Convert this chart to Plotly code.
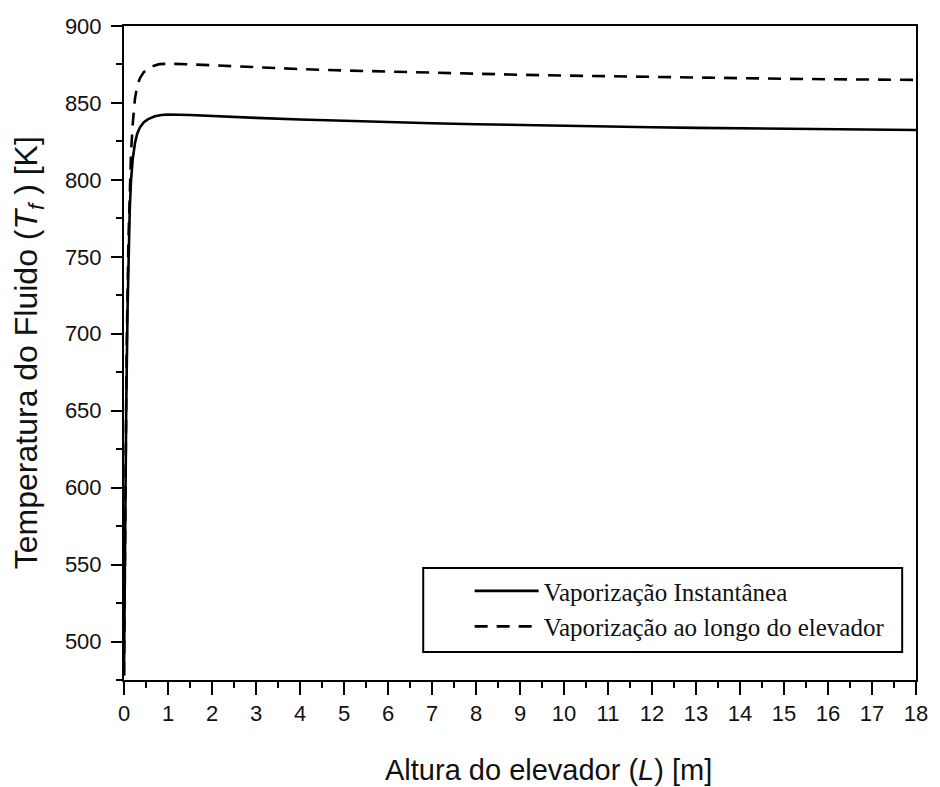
import plotly.graph_objects as go

# Data
L_inst = [0.0, 0.02, 0.05, 0.08, 0.1, 0.13, 0.16, 0.2, 0.25, 0.3, 0.36, 0.45, 0.55, 0.7, 0.85, 1.0,
          1.5, 2, 3, 4, 5, 6, 7, 8, 9, 10, 11, 12, 13, 14, 15, 16, 17, 18]
T_inst = [478, 560, 650, 715, 750, 780, 800, 814, 824, 830, 834, 837.5, 839.5, 841.3, 842.2, 842.5,
          842.2, 841.5, 840.3, 839.2, 838.3, 837.5, 836.8, 836.2, 835.6, 835.0, 834.6, 834.2, 833.8,
          833.5, 833.2, 832.9, 832.6, 832.4]

L_vap = [0.0, 0.03, 0.06, 0.1, 0.13, 0.16, 0.2, 0.25, 0.3, 0.36, 0.45, 0.6, 0.8, 1.0,
         1.5, 2, 3, 4, 5, 6, 7, 8, 9, 10, 11, 12, 13, 14, 15, 16, 17, 18]
T_vap = [478, 600, 690, 760, 795, 818, 837, 853, 861, 866, 870, 873.5, 875.2, 875.5,
         875.1, 874.4, 873.2, 872.0, 871.1, 870.3, 869.6, 868.9, 868.3, 867.8, 867.3, 866.8,
         866.4, 866.0, 865.7, 865.4, 865.2, 865.0]

name_inst = "Vaporização Instantânea"
name_vap = "Vaporização ao longo do elevador"

x_ticks = list(range(0, 19))
y_ticks = [500, 550, 600, 650, 700, 750, 800, 850, 900]

fig = go.Figure()
fig.add_trace(go.Scatter(x=L_inst, y=T_inst, mode="lines", name=name_inst,
                         line=dict(color="black", width=2.6)))
fig.add_trace(go.Scatter(x=L_vap, y=T_vap, mode="lines", name=name_vap,
                         line=dict(color="black", width=2.6, dash="13px,9px")))

axis_common = dict(showline=True, linecolor="black", linewidth=2, mirror=True,
                   ticks="outside", tickcolor="black", tickwidth=2,
                   showgrid=False, zeroline=False,
                   tickfont=dict(family="Liberation Sans, Arial", size=22, color="#111"))

fig.update_xaxes(range=[0, 18], tickvals=x_ticks, ticklen=13,
                 minor=dict(dtick=0.5, tick0=0, ticks="outside", ticklen=6,
                            tickcolor="black", tickwidth=2),
                 **axis_common)
fig.update_yaxes(range=[475, 900], tickvals=y_ticks, ticklen=11, ticklabelstandoff=5,
                 minor=dict(dtick=25, tick0=475, ticks="outside", ticklen=6,
                            tickcolor="black", tickwidth=2),
                 **axis_common)

fig.update_layout(
    width=940, height=787,
    margin=dict(l=124, r=14, t=26, b=107),
    paper_bgcolor="white", plot_bgcolor="white",
    showlegend=True,
    legend=dict(x=0.4364, y=0.171, xanchor="left", yanchor="top",
                bgcolor="rgba(0,0,0,0)", borderwidth=0,
                itemwidth=64,
                font=dict(family="Liberation Serif, Times New Roman", size=25, color="#111")),
    shapes=[dict(type="rect", xref="paper", yref="paper",
                 x0=(427 - 124) / 802, x1=(912 - 124) / 802,
                 y0=(680 - 652) / 654, y1=(680 - 568) / 654,
                 line=dict(color="black", width=2), fillcolor="rgba(0,0,0,0)")],
    annotations=[
        dict(text="Altura do elevador (<i>L</i>) [m]", xref="paper", yref="paper",
             x=(554 - 124) / 802, y=(680 - 770) / 654, xanchor="center", yanchor="middle",
             showarrow=False,
             font=dict(family="Liberation Sans, Arial", size=29, color="#111")),
        dict(text="Temperatura do Fluido (<i>T</i><sub><i>f</i></sub> ) [K]",
             xref="paper", yref="paper", textangle=-90,
             x=(27 - 124) / 802, y=0.5, xanchor="center", yanchor="middle",
             showarrow=False,
             font=dict(family="Liberation Sans, Arial", size=32, color="#111")),
    ],
)

fig.write_html("out.html")
